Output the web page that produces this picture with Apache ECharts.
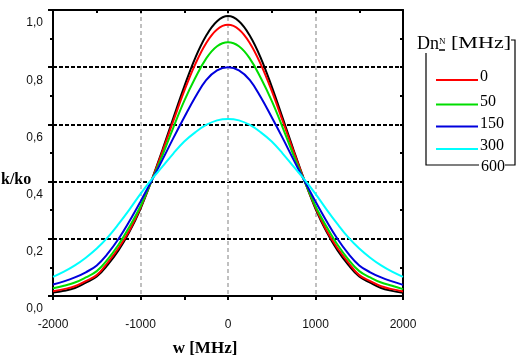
<!DOCTYPE html>
<html><head><meta charset="utf-8">
<script src="https://cdn.jsdelivr.net/npm/echarts@6/dist/echarts.min.js"></script>
<style>html,body{margin:0;padding:0;background:#fff}#c{width:519px;height:362px}</style>
</head><body><div id="c"></div>
<script>
// frequency detuning w [MHz]
const freqs = [-2000,-1875,-1750,-1625,-1500,-1375,-1250,-1125,-1000,-875,-750,-625,-500,-375,-250,-125,0,
               125,250,375,500,625,750,875,1000,1125,1250,1375,1500,1625,1750,1875,2000];
// k/ko curves
const k600 = [0.012,0.018,0.028,0.047,0.068,0.109,0.160,0.225,0.305,0.403,0.510,0.622,0.732,0.832,0.910,0.961,0.979,
              0.961,0.910,0.832,0.732,0.622,0.510,0.403,0.305,0.225,0.160,0.109,0.068,0.047,0.028,0.018,0.011];
const k0   = [0.017,0.024,0.034,0.052,0.073,0.117,0.168,0.230,0.309,0.403,0.505,0.612,0.717,0.810,0.884,0.932,0.948,
              0.932,0.884,0.810,0.717,0.612,0.505,0.403,0.309,0.230,0.168,0.117,0.073,0.052,0.034,0.024,0.016];
const k50  = [0.027,0.036,0.047,0.065,0.087,0.128,0.180,0.243,0.314,0.401,0.491,0.589,0.682,0.762,0.830,0.873,0.887,
              0.873,0.830,0.762,0.682,0.589,0.491,0.401,0.314,0.243,0.180,0.128,0.087,0.065,0.047,0.036,0.024];
const k150 = [0.040,0.051,0.065,0.083,0.107,0.148,0.200,0.262,0.330,0.402,0.476,0.552,0.625,0.695,0.755,0.789,0.800,
              0.789,0.755,0.695,0.625,0.552,0.476,0.402,0.330,0.262,0.200,0.148,0.107,0.083,0.065,0.051,0.039];
const k300 = [0.067,0.085,0.107,0.134,0.166,0.205,0.252,0.303,0.357,0.407,0.452,0.498,0.540,0.572,0.598,0.614,0.619,
              0.614,0.598,0.572,0.540,0.498,0.452,0.407,0.357,0.303,0.252,0.205,0.166,0.134,0.107,0.085,0.067];
const xTickLabels = ['-2000','-1000','0','1000','2000'];
const yTickLabels = ['0,0','0,2','0,4','0,6','0,8','1,0'];
const legendLabels = ['0','50','150','300','600'];

const pair = arr => freqs.map((f,i)=>[f,arr[i]]);
const mk = (name, arr, color) => ({
  name, type:'line', data: pair(arr), smooth:0.4, showSymbol:false, symbol:'none',
  xAxisIndex:0, yAxisIndex:0, lineStyle:{color, width:2}, itemStyle:{color}
});
const black = '#000';
const serif = '"Liberation Serif", "Times New Roman", serif';
const sans = '"Liberation Sans", Arial, sans-serif';

const chart = echarts.init(document.getElementById('c'));
const legendY = [80, 104.5, 126.5, 149];
const legendColors = ['#ff0000','#00dd00','#0000dd','#00ffff'];
const graphic = [];
// legend frame
graphic.push({type:'polyline', shape:{points:[[426,53],[426,165],[479,165]]}, style:{stroke:black, lineWidth:1.2, fill:null}});
graphic.push({type:'polyline', shape:{points:[[505,165],[515,165],[515,40],[511,40]]}, style:{stroke:black, lineWidth:1.2, fill:null}});
graphic.push({type:'text', x:417, y:44, style:{text:'Dn', font:'18px '+serif, fill:black, verticalAlign:'middle'}});
graphic.push({type:'text', x:439, y:42, style:{text:'N', font:'9px '+serif, fill:black, verticalAlign:'middle'}});
graphic.push({type:'line', shape:{x1:439,y1:50,x2:445,y2:50}, style:{stroke:black, lineWidth:1.5}});
graphic.push({type:'text', x:451, y:44, scaleX:1.3, style:{text:'[MHz]', font:'17px '+serif, fill:black, verticalAlign:'middle'}});
legendColors.forEach((c,i)=>{
  graphic.push({type:'line', shape:{x1:436,y1:legendY[i],x2:478,y2:legendY[i]}, style:{stroke:c, lineWidth:2}});
  graphic.push({type:'text', x:480, y:legendY[i]-3, style:{text:legendLabels[i], font:'16px '+serif, fill:black, verticalAlign:'middle'}});
});
graphic.push({type:'text', x:481, y:167, style:{text:legendLabels[4], font:'16px '+serif, fill:black, verticalAlign:'middle'}});
// y-axis title
graphic.push({type:'text', x:1, y:180, style:{text:'k/ko', font:'bold 16px '+serif, fill:black, verticalAlign:'middle'}});

chart.setOption({
  animation:false,
  backgroundColor:'#fff',
  grid:{left:53, right:116, top:10, bottom:66, containLabel:false, outerBoundsMode:'none'},
  xAxis:[{
    type:'value', position:'bottom', min:-2000, max:2000, interval:1000,
    axisLine:{show:true, onZero:false, lineStyle:{color:black, width:2}},
    axisTick:{show:true, length:4, lineStyle:{color:black, width:2}},
    minorTick:{show:true, splitNumber:2, length:4, lineStyle:{color:black, width:2}},
    splitLine:{show:true, lineStyle:{color:'#c0c0c0', width:2, type:[4,3]}},
    axisLabel:{margin:23, fontSize:12, color:'#111', fontFamily:sans,
      formatter:v=>xTickLabels[Math.round((v+2000)/1000)]},
    name:'w [MHz]', nameLocation:'middle', nameGap:44,
    nameTextStyle:{fontFamily:serif, fontWeight:'bold', fontSize:17, color:black, padding:[0,46,0,0]}
  },{
    type:'value', position:'top', min:-2000, max:2000, interval:500,
    axisLine:{show:true, onZero:false, lineStyle:{color:black, width:2}},
    axisTick:{show:true, inside:true, length:3, lineStyle:{color:black, width:2}},
    axisLabel:{show:false}, splitLine:{show:false}
  }],
  yAxis:[{
    type:'value', position:'left', min:0, max:1, interval:0.2,
    axisLine:{show:true, onZero:false, lineStyle:{color:black, width:2}},
    axisTick:{show:true, length:5, lineStyle:{color:black, width:2}},
    minorTick:{show:true, splitNumber:2, length:3, lineStyle:{color:black, width:2}},
    splitLine:{show:true, lineStyle:{color:black, width:2, type:[4,2]}},
    axisLabel:{margin:10, fontSize:12, color:'#111', fontFamily:sans, verticalAlign:'top', padding:[7,0,0,0],
      formatter:v=>yTickLabels[Math.round(v*5)]}
  },{
    type:'value', position:'right', min:0, max:1, interval:0.1,
    axisLine:{show:true, onZero:false, lineStyle:{color:black, width:2}},
    axisTick:{show:true, inside:true, length:3, lineStyle:{color:black, width:2}},
    axisLabel:{show:false}, splitLine:{show:false}
  }],
  series:[
    mk('600', k600, '#000000'),
    mk('0', k0, '#ff0000'),
    mk('50', k50, '#00dd00'),
    mk('150', k150, '#0000dd'),
    mk('300', k300, '#00ffff')
  ],
  graphic
});
</script>
</body></html>
